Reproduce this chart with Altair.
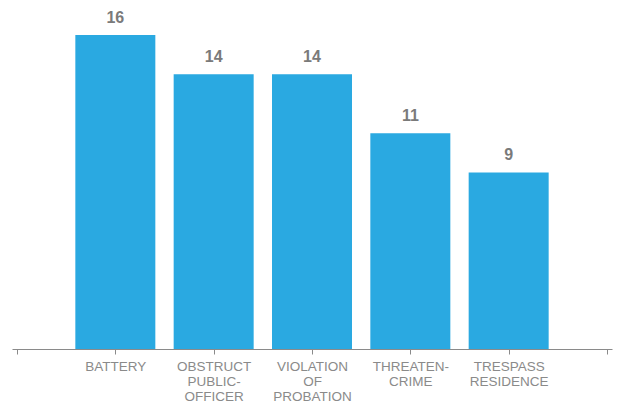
import altair as alt
import pandas as pd

categories = ["BATTERY", "OBSTRUCT|PUBLIC-|OFFICER", "VIOLATION|OF|PROBATION", "THREATEN-|CRIME", "TRESPASS|RESIDENCE"]
values = [16, 14, 14, 11, 9]
positions = [1, 2, 3, 4, 5]

df = pd.DataFrame({"pos": positions, "cat": categories, "value": values})

label_array = "[''," + ",".join("'" + c + "'" for c in categories) + ",'']"

x_enc = alt.X(
    "pos:Q",
    scale=alt.Scale(domain=[0, 6], nice=False, zero=False),
    axis=alt.Axis(
        title=None,
        values=[0, 1, 2, 3, 4, 5, 6],
        labelExpr="split(" + label_array + "[datum.value], '|')",
        grid=False,
        domainColor="#8a8a8a",
        tickColor="#8a8a8a",
        tickSize=5,
        labelColor="#8a8a8a",
        labelFont="Liberation Sans",
        labelFontSize=13.5,
        labelLineHeight=15,
        labelPadding=5,
        labelAngle=0,
        labelOverlap=False,
        labelFlush=False,
    ),
)
y_enc = alt.Y(
    "value:Q",
    scale=alt.Scale(domain=[0, 16], nice=False),
    axis=None,
)

bars = alt.Chart(df).mark_bar(size=80, color="#2aa9e1").encode(x=x_enc, y=y_enc)
text = alt.Chart(df).mark_text(
    dy=-12, baseline="alphabetic", fontSize=16, fontWeight="bold",
    font="Liberation Sans", color="#7a7a7a", clip=False
).encode(x="pos:Q", y="value:Q", text="value:Q")

chart = (bars + text).properties(
    width=600, height=314,
    autosize=alt.AutoSizeParams(type="none"),
    padding={"left": 4, "top": 27, "right": 3, "bottom": 54},
).configure_view(stroke=None)

chart.save("out.html", embed_options={"renderer": "svg", "actions": False})
